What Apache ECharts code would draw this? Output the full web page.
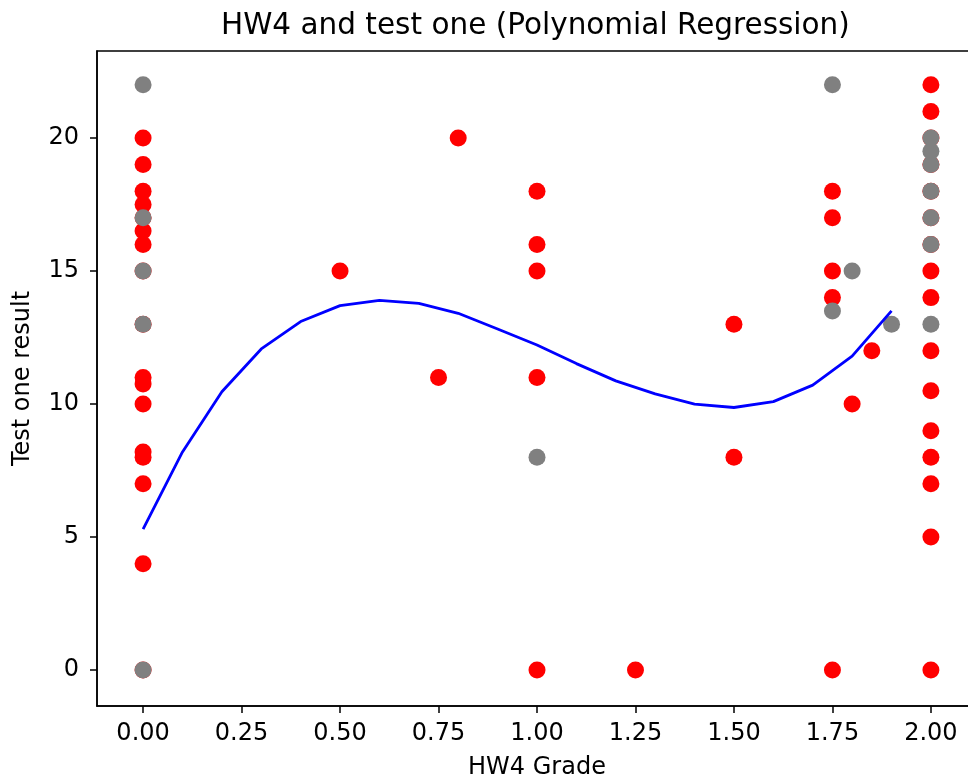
<!DOCTYPE html>
<html>
<head>
<meta charset="utf-8">
<script src="https://cdn.jsdelivr.net/npm/echarts@6/dist/echarts.min.js"></script>
<style>
  html, body { margin: 0; padding: 0; background: #fff; }
  #chart { width: 968px; height: 781px; }
</style>
</head>
<body>
<div id="chart"></div>
<script>
// scatter points (red = actual, gray = other marks drawn on top)
var redX = [0, 0, 0, 0, 0, 0, 0, 0, 0, 0, 0, 0, 0, 0, 0, 0, 0,
            0.5, 0.75, 0.8,
            1, 1, 1, 1, 1, 1.25, 1.5, 1.5,
            1.75, 1.75, 1.75, 1.75, 1.75, 1.8, 1.85,
            2, 2, 2, 2, 2, 2, 2, 2, 2, 2, 2, 2, 2, 2, 2, 2];
var redY = [20, 19, 18, 17.5, 17, 16.5, 16, 15, 13, 11, 10.75, 10, 8.2, 8, 7, 4, 0,
            15, 11, 20,
            18, 16, 15, 11, 0, 0, 13, 8,
            18, 17, 15, 14, 0, 10, 12,
            22, 21, 20, 19, 18, 17, 16, 15, 14, 12, 10.5, 9, 8, 7, 5, 0];

var grayX = [0, 0, 0, 0, 0, 1, 1.75, 1.75, 1.8, 1.9, 2, 2, 2, 2, 2, 2, 2];
var grayY = [22, 17, 15, 13, 0, 8, 22, 13.5, 15, 13, 20, 19.5, 19, 18, 17, 16, 13];

// fitted polynomial curve
var fitX = [0, 0.1, 0.2, 0.3, 0.4, 0.5, 0.6, 0.7, 0.8, 0.9,
            1.0, 1.1, 1.2, 1.3, 1.4, 1.5, 1.6, 1.7, 1.8, 1.9];
var fitY = [5.3, 8.2, 10.46, 12.07, 13.1, 13.7, 13.9, 13.78, 13.41, 12.82,
            12.22, 11.52, 10.87, 10.38, 10.0, 9.87, 10.09, 10.71, 11.8, 13.5];

var xTicks = [0, 0.25, 0.5, 0.75, 1, 1.25, 1.5, 1.75, 2];
var yTicks = [0, 5, 10, 15, 20];

function pairs(xs, ys) {
  return xs.map(function (x, i) { return [x, ys[i]]; });
}

var font = 'DejaVu Sans';
var chart = echarts.init(document.getElementById('chart'));

// the figure is cut off on the right, so the grid runs past the canvas edge
chart.setOption({
  animation: false,
  backgroundColor: '#fff',
  title: {
    text: 'HW4 and test one (Polynomial Regression)',
    left: 216,
    top: 6,
    textStyle: { fontFamily: font, fontSize: 29.5, fontWeight: 'normal', color: '#000' }
  },
  grid: {
    left: 97, top: 51, bottom: 75, right: -9,
    outerBoundsMode: 'none',
    show: true, borderColor: '#000', borderWidth: 1.5, backgroundColor: 'transparent'
  },
  xAxis: {
    type: 'value',
    min: -0.117,
    max: 2.117,
    name: 'HW4 Grade',
    nameLocation: 'middle',
    nameGap: 50,
    nameTextStyle: { fontFamily: font, fontSize: 24, color: '#000' },
    splitLine: { show: false },
    axisLine: { onZero: false, lineStyle: { color: '#000', width: 1.5 } },
    axisTick: { length: 7, lineStyle: { color: '#000', width: 1.5 }, customValues: xTicks },
    axisLabel: {
      customValues: xTicks,
      margin: 16,
      fontFamily: font, fontSize: 24, color: '#000',
      formatter: function (v) { return v.toFixed(2); }
    }
  },
  yAxis: {
    type: 'value',
    min: -1.35,
    max: 23.27,
    name: 'Test one result',
    nameLocation: 'middle',
    nameGap: 62,
    nameTextStyle: { fontFamily: font, fontSize: 24, color: '#000' },
    splitLine: { show: false },
    axisLine: { show: true, onZero: false, lineStyle: { color: '#000', width: 1.5 } },
    axisTick: { show: true, length: 7, lineStyle: { color: '#000', width: 1.5 }, customValues: yTicks },
    axisLabel: {
      customValues: yTicks,
      margin: 18,
      fontFamily: font, fontSize: 24, color: '#000'
    }
  },
  series: [
    {
      type: 'scatter',
      data: pairs(redX, redY),
      symbolSize: 17,
      itemStyle: { color: '#ff0000', opacity: 1 },
      z: 2
    },
    {
      type: 'scatter',
      data: pairs(grayX, grayY),
      symbolSize: 17,
      itemStyle: { color: '#808080', opacity: 1 },
      z: 3
    },
    {
      type: 'line',
      data: pairs(fitX, fitY),
      showSymbol: false,
      smooth: false,
      lineStyle: { color: '#0000ff', width: 2.8 },
      z: 4
    }
  ]
});
</script>
</body>
</html>
